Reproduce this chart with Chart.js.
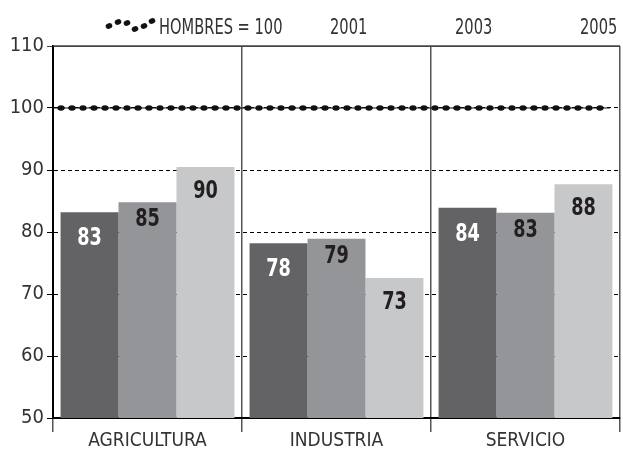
<!DOCTYPE html>
<html>
<head>
<meta charset="utf-8">
<script src="https://cdn.jsdelivr.net/npm/chart.js@4/dist/chart.umd.min.js"></script>
<style>
  html, body { margin: 0; padding: 0; background: #fff; }
  #wrap { width: 623px; height: 449px; }
</style>
</head>
<body>
<div id="wrap"><canvas id="c" width="623" height="449"></canvas></div>
<script>
const categories = ["AGRICULTURA", "INDUSTRIA", "SERVICIO"];
const years = ["2001", "2003", "2005"];
const values2001 = [83.2, 78.2, 83.9];
const values2003 = [84.8, 78.9, 83.1];
const values2005 = [90.5, 72.6, 87.7];
const barLabels = [["83", "78", "84"], ["85", "79", "83"], ["90", "73", "88"]];
const refLabel = "HOMBRES = 100";
const refValue = 100;
const yTicks = [50, 60, 70, 80, 90, 100, 110];

const FONT = '"Liberation Sans Narrow", "DejaVu Sans Condensed", "Noto Sans", sans-serif';
const colors = ["#636365", "#949599", "#c7c8ca"];

// narrow text: squeeze horizontally so it looks like a condensed face
function narrowText(ctx, txt, x, y, squeeze) {
  ctx.save();
  ctx.translate(x, y);
  ctx.scale(squeeze, 1);
  ctx.fillText(txt, 0, 0);
  ctx.restore();
}

// numbers written on the bars, a little below each bar top
const barText = {
  id: "barText",
  afterDatasetsDraw(chart) {
    const ctx = chart.ctx;
    const drop = [27, 18, 25];
    ctx.save();
    ctx.font = "bold 24px " + FONT;
    ctx.textAlign = "center";
    ctx.textBaseline = "middle";
    for (let d = 0; d < 3; d++) {
      const meta = chart.getDatasetMeta(d);
      meta.data.forEach((bar, i) => {
        ctx.fillStyle = d === 0 ? "#ffffff" : "#231f20";
        narrowText(ctx, barLabels[d][i], bar.x, bar.y + drop[d], 0.82);
      });
    }
    ctx.restore();
  }
};

// "hombres = 100" reference line, placed with the y scale
const refLine = {
  id: "refLine",
  afterDatasetsDraw(chart) {
    const ctx = chart.ctx;
    const a = chart.chartArea;
    const y = chart.scales.y.getPixelForValue(refValue);
    ctx.save();
    ctx.strokeStyle = "#111";
    ctx.lineWidth = 1.2;
    ctx.beginPath();
    ctx.moveTo(a.left, y);
    ctx.lineTo(a.right - 10, y);
    ctx.stroke();
    ctx.fillStyle = "#111";
    for (let x = a.left + 8; x < a.right - 10; x += 11) {
      ctx.beginPath();
      ctx.ellipse(x, y, 3.6, 2.8, 0, 0, Math.PI * 2);
      ctx.fill();
    }
    ctx.restore();
  }
};

// top frame line and the legend row
const frame = {
  id: "frame",
  afterDraw(chart) {
    const ctx = chart.ctx;
    const a = chart.chartArea;
    ctx.save();
    ctx.strokeStyle = "#444";
    ctx.lineWidth = 1.5;
    ctx.beginPath();
    ctx.moveTo(a.left, a.top);
    ctx.lineTo(a.right, a.top);
    ctx.stroke();

    const dots = [[109, 26], [118, 22], [127, 23], [135, 29], [144, 26], [152, 21]];
    ctx.fillStyle = "#111";
    dots.forEach(p => {
      ctx.beginPath();
      ctx.ellipse(p[0], p[1], 3.4, 2.7, -0.4, 0, Math.PI * 2);
      ctx.fill();
    });

    ctx.fillStyle = "#333";
    ctx.font = "22px " + FONT;
    ctx.textBaseline = "middle";
    ctx.textAlign = "left";
    narrowText(ctx, refLabel, 159, 28, 0.74);
    const xs = [330, 455, 580];
    years.forEach((y, i) => narrowText(ctx, y, xs[i], 28, 0.74));
    ctx.restore();
  }
};

new Chart(document.getElementById("c"), {
  type: "bar",
  data: {
    labels: categories,
    datasets: [
      { label: years[0], data: values2001, backgroundColor: colors[0] },
      { label: years[1], data: values2003, backgroundColor: colors[1] },
      { label: years[2], data: values2005, backgroundColor: colors[2] }
    ]
  },
  options: {
    responsive: false,
    animation: false,
    layout: { padding: { top: 46, right: 3, left: 0, bottom: 0 } },
    plugins: { legend: { display: false }, tooltip: { enabled: false } },
    datasets: { bar: { barPercentage: 1, categoryPercentage: 0.92 } },
    scales: {
      x: {
        afterFit(s) { s.height = 31; },
        grid: { offset: true, color: "#555", lineWidth: 1.5, tickLength: 14 },
        border: { color: "#000", width: 2 },
        ticks: { color: "#333", font: { family: FONT, size: 19 }, padding: -2 }
      },
      y: {
        min: 50, max: 110,
        afterFit(s) { s.width = 53; },
        afterBuildTicks(s) { s.ticks = yTicks.map(v => ({ value: v })); },
        grid: {
          color: ctx => (ctx.tick && ctx.tick.value === 110 ? "#444" : "#000"),
          lineWidth: 1, tickLength: 6
        },
        border: {
          color: "#000", width: 2,
          dash: ctx => (ctx.tick && ctx.tick.value === 110 ? [] : [4, 3])
        },
        ticks: { color: "#333", font: { family: FONT, size: 20 }, padding: 3 }
      }
    }
  },
  plugins: [barText, refLine, frame]
});
</script>
</body>
</html>
